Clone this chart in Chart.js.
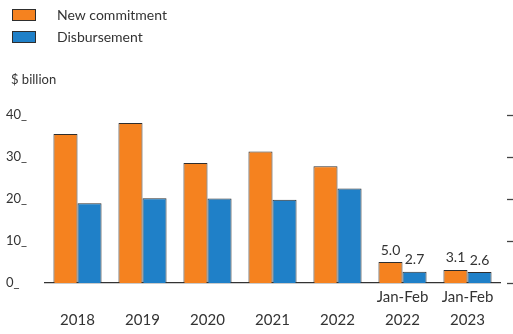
<!DOCTYPE html>
<html>
<head>
<meta charset="utf-8">
<script src="https://cdn.jsdelivr.net/npm/chart.js@4/dist/chart.umd.min.js"></script>
<style>
  html, body { margin: 0; padding: 0; background: #fff; }
  #wrap { width: 513px; height: 334px; }
</style>
</head>
<body>
<div id="wrap"><canvas id="myChart" width="513" height="334"></canvas></div>
<script>
var categories = [['', '2018'], ['', '2019'], ['', '2020'], ['', '2021'], ['', '2022'], ['Jan-Feb', '2022'], ['Jan-Feb', '2023']];
var newCommitment = [35.5, 38.1, 28.6, 31.3, 27.8, 5.0, 3.1];
var disbursement = [19.0, 20.2, 20.1, 19.8, 22.5, 2.7, 2.6];
var labelledFrom = 5; // only the Jan-Feb bars carry value labels
var unitLabel = '$ billion';

var orange = '#f5821f';
var blue = '#1f80c8';
var edge = '#2e2e2e';
var textColor = '#333333';
var fontFamily = 'Lato, "Open Sans", sans-serif';

// legend, unit title, value labels and right-hand tick marks
var extras = {
  id: 'extras',
  afterDatasetsDraw: function(chart) {
    var c = chart.ctx;
    c.save();
    var items = [[orange, chart.data.datasets[0].label, 9], [blue, chart.data.datasets[1].label, 31]];
    items.forEach(function(it) {
      c.fillStyle = it[0];
      c.fillRect(12, it[2], 24, 12);
      c.strokeStyle = edge;
      c.lineWidth = 1;
      c.strokeRect(12.5, it[2] + 0.5, 23, 11);
      c.fillStyle = textColor;
      c.font = '14px ' + fontFamily;
      c.textBaseline = 'middle';
      c.textAlign = 'left';
      c.fillText(it[1], 57, it[2] + 6.5);
    });
    c.font = '13px ' + fontFamily;
    c.fillText(unitLabel, 11, 80);

    c.font = '14px ' + fontFamily;
    c.textAlign = 'center';
    c.textBaseline = 'bottom';
    chart.data.datasets.forEach(function(ds, di) {
      chart.getDatasetMeta(di).data.forEach(function(bar, i) {
        if (i < labelledFrom) return;
        c.fillText(ds.data[i].toFixed(1), bar.x, bar.y - 5);
      });
    });

    var y = chart.scales.y;
    c.strokeStyle = '#444';
    c.lineWidth = 1.3;
    y.ticks.forEach(function(t) {
      var py = Math.round(y.getPixelForValue(t.value)) + 0.5;
      c.beginPath();
      c.moveTo(507, py);
      c.lineTo(513, py);
      c.stroke();
    });
    c.restore();
  }
};

var ctx = document.getElementById('myChart').getContext('2d');
var myChart = new Chart(ctx, {
  type: 'bar',
  data: {
    labels: categories,
    datasets: [{
      label: 'New commitment',
      data: newCommitment,
      backgroundColor: orange,
      borderColor: edge,
      borderWidth: 1
    }, {
      label: 'Disbursement',
      data: disbursement,
      backgroundColor: blue,
      borderColor: edge,
      borderWidth: 1
    }]
  },
  options: {
    responsive: false,
    animation: false,
    layout: { padding: { top: 115, left: 6, right: 13, bottom: 0 } },
    datasets: { bar: { categoryPercentage: 0.74, barPercentage: 1 } },
    plugins: {
      legend: { display: false },
      tooltip: { enabled: false }
    },
    scales: {
      x: {
        grid: { display: false, drawTicks: false, tickLength: 0 },
        border: { display: true, color: '#333', width: 1.3 },
        ticks: {
          color: textColor,
          font: { family: fontFamily, size: 15, lineHeight: 1.5 },
          padding: 3,
          maxRotation: 0
        }
      },
      y: {
        min: 0,
        max: 40,
        grid: { display: false },
        border: { display: false },
        afterFit: function(s) { s.width = 39; },
        ticks: {
          stepSize: 10,
          crossAlign: 'far',
          color: textColor,
          font: { family: fontFamily, size: 13 },
          callback: function(v) { return v + '_'; }
        }
      }
    }
  },
  plugins: [extras]
});
</script>
</body>
</html>
